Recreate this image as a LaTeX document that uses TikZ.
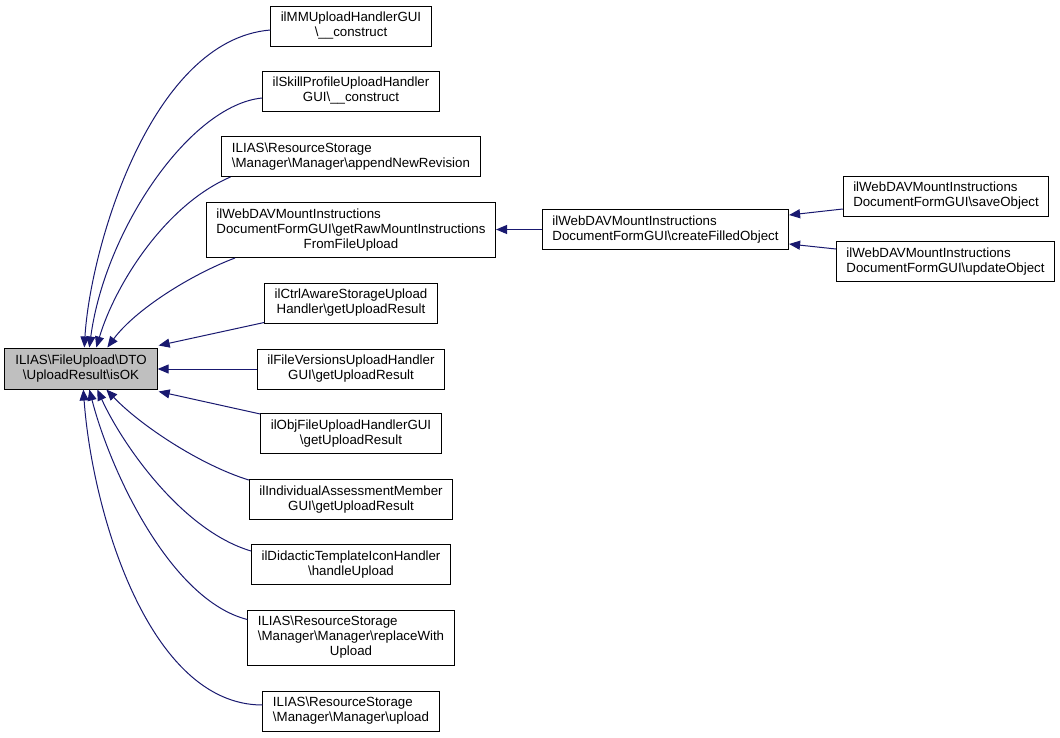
\documentclass[tikz,border=0pt]{standalone}
\usepackage{fontspec}
\setmainfont{Liberation Sans}
\usetikzlibrary{arrows.meta,calc}
\definecolor{nodegray}{HTML}{BFBFBF}
\definecolor{edgeblue}{HTML}{191970}
\newcommand\bs{\textbackslash}
\newcommand\twol[2]{\begin{tabular}{@{}l@{}}#1\\\multicolumn{1}{@{}c@{}}{#2}\end{tabular}}
\newcommand\threel[3]{\begin{tabular}{@{}l@{}}#1\\#2\\\multicolumn{1}{@{}c@{}}{#3}\end{tabular}}
\begin{document}
\begin{tikzpicture}[x=1pt,y=-1pt,
  box/.style={draw=black,line width=1pt,fill=white,inner xsep=10pt,inner ysep=5pt,
    font=\fontsize{13.3}{15}\selectfont,anchor=center},
  edge/.style={draw=edgeblue,line width=1pt,-{Triangle[length=11pt,width=9pt]}}]
\useasboundingbox (0,0) rectangle (1060,737);
\fill[white] (0,0) rectangle (1060,737);

\node[box,fill=nodegray,inner xsep=10.5pt,inner ysep=5.5pt] (isok) at (81,368.5) {\twol{ILIAS\bs FileUpload\bs DTO}{\bs UploadResult\bs isOK}};
\node[box] (mm) at (351,26) {\twol{ilMMUploadHandlerGUI}{\bs\_\_construct}};
\node[box] (skill) at (351,91) {\twol{ilSkillProfileUploadHandler}{GUI\bs\_\_construct}};
\node[box] (append) at (351,156.5) {\twol{ILIAS\bs ResourceStorage}{\bs Manager\bs Manager\bs appendNewRevision}};
\node[box] (raw) at (351,230) {\threel{ilWebDAVMountInstructions}{DocumentFormGUI\bs getRawMountInstructions}{FromFileUpload}};
\node[box] (ctrl) at (351,303) {\twol{ilCtrlAwareStorageUpload}{Handler\bs getUploadResult}};
\node[box] (fv) at (351,369) {\twol{ilFileVersionsUploadHandler}{GUI\bs getUploadResult}};
\node[box] (obj) at (351,433.5) {\twol{ilObjFileUploadHandlerGUI}{\bs getUploadResult}};
\node[box] (ind) at (351,499.5) {\twol{ilIndividualAssessmentMember}{GUI\bs getUploadResult}};
\node[box] (did) at (351,564.5) {\twol{ilDidacticTemplateIconHandler}{\bs handleUpload}};
\node[box] (rep) at (351,637.5) {\threel{ILIAS\bs ResourceStorage}{\bs Manager\bs Manager\bs replaceWith}{Upload}};
\node[box] (upl) at (351,711) {\twol{ILIAS\bs ResourceStorage}{\bs Manager\bs Manager\bs upload}};
\node[box] (cfo) at (665.5,229.5) {\twol{ilWebDAVMountInstructions}{DocumentFormGUI\bs createFilledObject}};
\node[box] (save) at (946,196) {\twol{ilWebDAVMountInstructions}{DocumentFormGUI\bs saveObject}};
\node[box] (upd) at (945.5,261.5) {\twol{ilWebDAVMountInstructions}{DocumentFormGUI\bs updateObject}};

% edges into isOK (top)
\draw[edge] ([yshift=-4pt]mm.west) .. controls (150,40) and (90,250) .. ([xshift=80pt]isok.north west);
\draw[edge] ([yshift=-7pt]skill.west) .. controls (190,105) and (105,230) .. ([xshift=85pt]isok.north west);
\draw[edge] ([xshift=9pt]append.south west) .. controls (165,205) and (115,285) .. ([xshift=92pt]isok.north west);
\draw[edge] ([xshift=29pt]raw.south west) .. controls (190,275) and (135,310) .. ([xshift=103pt]isok.north west);
\draw[edge] ([yshift=1pt]ctrl.south west) -- ([xshift=1pt,yshift=2pt]isok.north east);
\draw[edge] (fv.west) -- (fv.west -| isok.east);
\draw[edge] ([yshift=-1pt]obj.north west) -- ([xshift=1pt,yshift=-2pt]isok.south east);
% edges into isOK (bottom)
\draw[edge] ([yshift=-1pt]ind.north west) .. controls (200,465) and (140,425) .. ([xshift=102pt]isok.south west);
\draw[edge] ([yshift=-7pt]did.north west) .. controls (180,530) and (120,440) .. ([xshift=93pt]isok.south west);
\draw[edge] ([yshift=-10pt]rep.north west) .. controls (170,600) and (110,470) .. ([xshift=85pt]isok.south west);
\draw[edge] ([yshift=6pt]upl.west) .. controls (148,705) and (92,510) .. ([xshift=79pt]isok.south west);
% right part
\draw[edge] (cfo.west) -- (cfo.west -| raw.east);
\draw[edge] ([yshift=-13pt]save.west) -- ([yshift=14.5pt]cfo.east);
\draw[edge] ([yshift=12.5pt]upd.west) -- ([yshift=-14.5pt]cfo.east);
\end{tikzpicture}
\end{document}
